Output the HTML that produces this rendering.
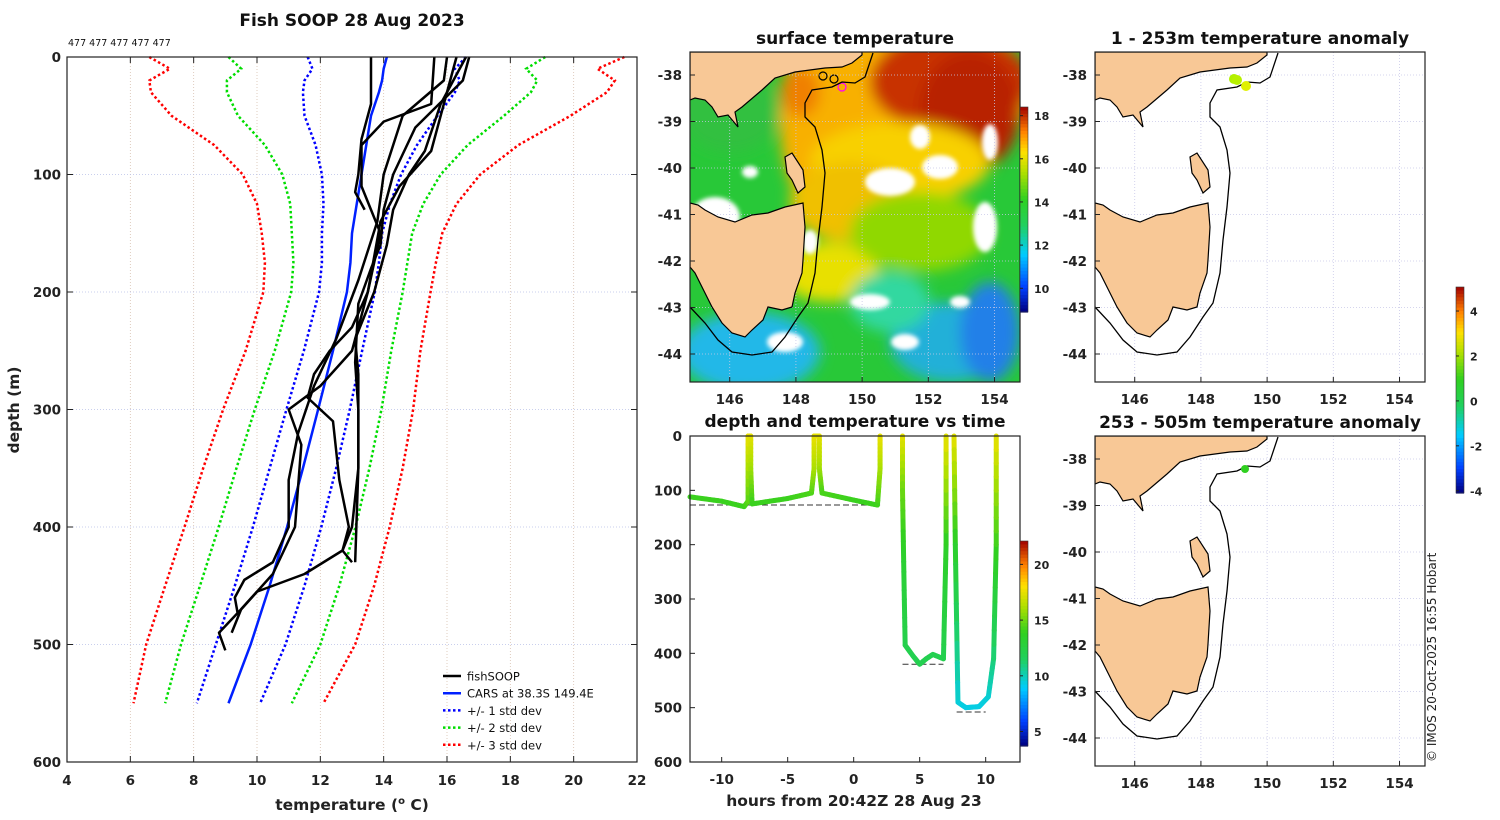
<!DOCTYPE html>
<html><head><meta charset="utf-8"><style>
body{margin:0;background:#fff}
svg{display:block;font-family:"DejaVu Sans","Liberation Sans",sans-serif}
.tk{font-size:13.5px;font-weight:bold;fill:#222}
.tt{font-size:17px;font-weight:bold;fill:#111}
.sm{font-size:11px;font-weight:bold;fill:#222}
</style></head><body>
<svg id="fig" width="1500" height="820" viewBox="0 0 1500 820">
<defs>
<clipPath id="mapclip"><rect x="0" y="0" width="330" height="330"/></clipPath>
<filter id="blur" x="-20%" y="-20%" width="140%" height="140%"><feGaussianBlur stdDeviation="7"/></filter>
<filter id="blur2"><feGaussianBlur stdDeviation="2"/></filter>
</defs>
<g id="left"></g>
<g id="sst"></g>
<g id="dt"></g>
<g id="an1"></g>
<g id="an2"></g>
<text x="1436" y="762" transform="rotate(-90 1436 762)" font-size="12" fill="#222">© IMOS 20-Oct-2025 16:55 Hobart</text>
</svg>
<script>
// ---------- data ----------
const carsDepth=[0,10,20,30,50,75,100,125,150,175,200,250,300,350,400,450,500,550];
const carsMean=[14.1,14.0,13.95,13.85,13.6,13.45,13.3,13.15,13.0,12.95,12.84,12.4,11.93,11.45,10.95,10.4,9.8,9.1];
const carsStd=[2.5,2.25,2.45,2.4,2.1,1.6,1.25,1.05,0.95,0.9,0.88,0.92,1.0,1.05,1.08,1.1,1.1,1.0];
const profA=[[15.6,0],[15.5,40],[14.0,55],[13.3,75],[13.3,110],[13.6,130],[13.9,150],[13.5,200],[13.0,250],[12.0,280],[11.0,300],[11.4,330],[11.2,400],[10.5,440],[9.5,470],[8.8,490],[9.0,505]];
const profB=[[16.7,0],[16.5,20],[15.0,60],[14.3,100],[14.0,130],[13.9,160],[13.6,180],[13.2,210],[13.1,260],[13.2,300],[13.2,350],[13.0,400],[12.7,420],[13.0,430]];
const profC=[[16.3,0],[16.0,30],[15.5,80],[14.5,110],[13.9,140],[13.7,170],[13.5,200],[13.0,230],[12.3,250],[11.8,270],[11.6,290],[12.4,310],[12.6,360],[12.9,400],[12.7,420],[11.5,440],[10.0,455],[9.5,470],[9.2,490]];
const profD=[[16.0,0],[15.9,20],[14.6,50],[14.0,100],[13.8,140],[13.2,190],[12.5,240],[11.8,280],[11.3,320],[11.0,360],[11.0,400],[10.5,430],[9.6,445],[9.3,460],[9.4,475]];
const profE=[[16.6,0],[16.4,10],[15.8,40],[15.3,80],[14.8,100],[14.3,130],[14.1,160],[13.7,200],[13.1,240],[13.2,270],[13.2,350],[13.1,430]];
const profF=[[13.6,0],[13.6,40],[13.3,70],[13.2,100],[13.1,115],[13.4,130]];
const xTicks=[4,6,8,10,12,14,16,18,20,22];
const yTicks=[0,100,200,300,400,500,600];
const dtHours1=[-12.4,-10,-8.3,-8.0,-8.0,-7.8,-7.8,-7.7,-5,-3.2,-3.0,-3.0,-2.6,-2.6,-2.4,0,1.8,2.0,2.0];
const dtDepth1=[112,120,130,120,0,0,60,125,115,105,60,0,0,60,105,118,127,60,0];
const dtTemp1=[14,14,14,14.5,17.5,17.5,16,14,14,14.3,16,17.5,17.5,16,14.3,14,14,16,17.5];
const dtHours2=[3.7,3.7,3.8,3.9,4.5,5,5.5,6,6.8,7.0,7.0];
const dtDepth2=[0,100,250,385,405,420,410,402,410,200,0];
const dtTemp2=[17.5,15,13,12.2,12,12,12,12,12,13.5,17.5];
const dtHours3=[7.6,7.7,7.9,8.5,9.5,10.2,10.6,10.8,10.8];
const dtDepth3=[0,200,490,500,498,480,410,200,0];
const dtTemp3=[17.5,13.5,9.5,9.3,9.3,9.5,11,14,17.5];
const dtXTicks=[-10,-5,0,5,10];
const dtYTicks=[0,100,200,300,400,500,600];
const mapLonTicks=[146,148,150,152,154];
const mapLatTicks=[-38,-39,-40,-41,-42,-43,-44];
const sstCbTicks=[18,16,14,12,10];
const dtCbTicks=[20,15,10,5];
const anCbTicks=[4,2,0,-2,-4];

const NS="http://www.w3.org/2000/svg";
function el(tag,attrs,parent){const e=document.createElementNS(NS,tag);for(const k in attrs)e.setAttribute(k,attrs[k]);parent.appendChild(e);return e;}
const stops=[[0,[0,0,128]],[0.12,[0,64,255]],[0.28,[0,204,255]],[0.42,[32,208,96]],[0.55,[48,208,32]],[0.68,[176,224,0]],[0.78,[255,224,0]],[0.88,[255,128,0]],[1,[160,0,0]]];
function cmap(t){t=Math.max(0,Math.min(1,t));for(let i=1;i<stops.length;i++){if(t<=stops[i][0]){const a=stops[i-1],b=stops[i];const f=(t-a[0])/(b[0]-a[0]);const c=a[1].map((v,j)=>Math.round(v+(b[1][j]-v)*f));return `rgb(${c})`;}}return 'rgb(160,0,0)';}

// ---------- left profile panel ----------
(function(){
const g=document.getElementById('left');
const X0=67,X1=637,Y0=57,Y1=762;
const xs=t=>X0+(t-4)*(X1-X0)/18, ys=d=>Y0+d*(Y1-Y0)/600;
el('rect',{x:X0,y:Y0,width:X1-X0,height:Y1-Y0,fill:'#fff'},g);
xTicks.forEach(t=>{const l=el('line',{x1:xs(t),x2:xs(t),y1:Y0,y2:Y1,stroke:'#d8c0b0','stroke-width':0.8,'stroke-dasharray':'1 2'},g);
const tx=el('text',{x:xs(t),y:Y1+23,'text-anchor':'middle',class:'tk'},g);tx.textContent=t;
el('line',{x1:xs(t),x2:xs(t),y1:Y1,y2:Y1-6,stroke:'#222'},g);el('line',{x1:xs(t),x2:xs(t),y1:Y0,y2:Y0+6,stroke:'#222'},g);});
yTicks.forEach(d=>{const l=el('line',{x1:X0,x2:X1,y1:ys(d),y2:ys(d),stroke:'#b8c0e8','stroke-width':0.8,'stroke-dasharray':'1 2'},g);
const tx=el('text',{x:X0-6,y:ys(d)+5,'text-anchor':'end',class:'tk'},g);tx.textContent=d;
el('line',{x1:X0,x2:X0+6,y1:ys(d),y2:ys(d),stroke:'#222'},g);el('line',{x1:X1,x2:X1-6,y1:ys(d),y2:ys(d),stroke:'#222'},g);});
const sdCol=['#0000ff','#00dd00','#ff0000'];
[1,2,3].forEach(k=>{[-1,1].forEach(s=>{const pts=carsDepth.map((d,i)=>xs(carsMean[i]+s*k*carsStd[i])+','+ys(d)).join(' ');
const p=el('polyline',{points:pts,fill:'none',stroke:sdCol[k-1],'stroke-width':2.5,'stroke-dasharray':'2.5 2.5'},g);});});
const cm=el('polyline',{points:carsDepth.map((d,i)=>xs(carsMean[i])+','+ys(d)).join(' '),fill:'none',stroke:'#0020ff','stroke-width':2.5},g);

[profA,profB,profC,profD,profE,profF].forEach((p,i)=>{const l=el('polyline',{points:p.map(q=>xs(q[0])+','+ys(q[1])).join(' '),fill:'none',stroke:'#000','stroke-width':2.5,'stroke-linejoin':'round'},g);
});
el('rect',{x:X0,y:Y0,width:X1-X0,height:Y1-Y0,fill:'none',stroke:'#222','stroke-width':1.2},g);
const t=el('text',{x:352,y:26,'text-anchor':'middle',class:'tt'},g);t.textContent='Fish SOOP 28 Aug 2023';
const c=el('text',{x:68,y:46,'font-size':9.5,fill:'#111'},g);c.textContent='477 477 477 477 477';
const xl=el('text',{x:352,y:810,'text-anchor':'middle','font-size':15.5,'font-weight':'bold',fill:'#222'},g);xl.innerHTML='temperature (<tspan dy="-6" font-size="10">o</tspan><tspan dy="6"> C)</tspan>';
const yl=el('text',{x:19,y:410,'text-anchor':'middle','font-size':15.5,'font-weight':'bold',fill:'#222',transform:'rotate(-90 19 410)'},g);yl.textContent='depth (m)';
const leg=[['fishSOOP','#000',''],['CARS at 38.3S 149.4E','#0020ff',''],['+/- 1 std dev','#0000ff','2.5 2.5'],['+/- 2 std dev','#00dd00','2.5 2.5'],['+/- 3 std dev','#ff0000','2.5 2.5']];
leg.forEach((L,i)=>{const y=676+i*17.2;const lg=el('g',{},g);
el('line',{x1:443,x2:461,y1:y,y2:y,stroke:L[1],'stroke-width':2.5,'stroke-dasharray':L[2]||'none'},lg);
const tx=el('text',{x:467,y:y+4.5,'font-size':11.5,fill:'#111'},lg);tx.textContent=L[0];});
})();

// ---------- map helpers ----------
const vic=[[0,0],[172,0],[172,3],[162,11],[152,15],[135,16],[105,20],[85,26],[72,38],[52,55],[45,60],[48,75],[38,63],[28,65],[22,55],[15,48],[5,46],[0,48]];
const tas=[[0,151],[8,153],[15,158],[28,165],[45,170],[62,163],[78,161],[95,155],[113,151],[115,175],[113,208],[112,221],[105,241],[102,255],[92,258],[78,255],[73,268],[62,278],[55,285],[42,281],[32,271],[22,255],[12,235],[5,221],[0,215]];
const flind=[[95,105],[102,101],[113,118],[115,135],[108,141],[102,128],[97,121]];
const shelf=[[183,1],[175,25],[165,31],[152,30],[142,35],[122,38],[115,51],[115,65],[125,75],[132,98],[135,121],[132,155],[128,188],[125,221],[118,251],[108,265],[95,285],[82,300],[62,303],[42,300],[28,288],[15,271],[0,255]];
const pts=a=>a.map(p=>p.join(',')).join(' ');
const lonX=lon=>(lon-144.8)*33.1, latY=lat=>23+(-38-lat)*46.5;
function mapFrame(g,ox,oy,labels,title,ty,underFn){
 const m=el('g',{transform:`translate(${ox},${oy})`},g);
 const inner=el('g',{'clip-path':'url(#mapclip)'},m);
 el('rect',{x:0,y:0,width:330,height:330,fill:'#fff'},inner);
 if(underFn)underFn(inner);
 mapLonTicks.forEach(l=>{el('line',{x1:lonX(l),x2:lonX(l),y1:0,y2:330,stroke:'#c8c8e8','stroke-width':0.8,'stroke-dasharray':'1 2'},inner);
  const t=el('text',{x:lonX(l),y:352,'text-anchor':'middle',class:'tk'},m);t.textContent=l;
  el('line',{x1:lonX(l),x2:lonX(l),y1:330,y2:325,stroke:'#222'},m);});
 mapLatTicks.forEach(l=>{el('line',{x1:0,x2:330,y1:latY(l),y2:latY(l),stroke:'#c8c8e8','stroke-width':0.8,'stroke-dasharray':'1 2'},inner);
  const t=el('text',{x:-8,y:latY(l)+5,'text-anchor':'end',class:'tk'},m);t.textContent=l;
  el('line',{x1:0,x2:5,y1:latY(l),y2:latY(l),stroke:'#222'},m);});
 [vic,tas,flind].forEach(p=>{const e=el('polygon',{points:pts(p),fill:'#f8c896',stroke:'#000','stroke-width':1.2},inner);});
 const s=el('polyline',{points:pts(shelf),fill:'none',stroke:'#000','stroke-width':1.3},inner);
 el('rect',{x:0,y:0,width:330,height:330,fill:'none',stroke:'#222','stroke-width':1.2},m);
 const t=el('text',{x:165,y:ty,'text-anchor':'middle',class:'tt'},m);t.textContent=title;
 return m;}
function colorbar(g,x,y0,y1,vmin,vmax,ticks,name){
 const cb=el('g',{},g);
 const n=60,h=(y1-y0)/n;for(let i=0;i<n;i++){el('rect',{x:x,y:y0+i*h,width:8,height:h+0.6,fill:cmap(1-(i+0.5)/n)},cb);}
 el('rect',{x:x,y:y0,width:8,height:y1-y0,fill:'none',stroke:'#333','stroke-width':0.6},cb);
 ticks.forEach(v=>{const y=y1-(v-vmin)/(vmax-vmin)*(y1-y0);el('line',{x1:x,x2:x+3,y1:y,y2:y,stroke:'#222'},cb);const t=el('text',{x:x+14,y:y+4.5,class:'sm'},cb);t.textContent=v;});}

// ---------- SST map ----------
(function(){
const g=document.getElementById('sst');
mapFrame(g,690,52,true,'surface temperature',-8,function(inner){
 el('rect',{x:0,y:0,width:330,height:330,fill:'#28c838'},inner);
 const b=el('g',{filter:'url(#blur)'},inner);
 const blobs=[[230,40,110,80,'#f0a000'],[150,70,60,110,'#f8b000'],[260,30,80,50,'#c83000'],[280,60,50,60,'#b82000'],[210,110,90,40,'#f8d000'],[160,150,60,40,'#f0c000'],[140,220,50,30,'#e8e000'],[230,180,70,40,'#90d800'],[60,300,70,40,'#20b8e8'],[260,290,60,40,'#20b0d8'],[300,280,30,50,'#2080e8'],[200,250,40,30,'#30d8a0'],[40,60,50,40,'#30c040'],[110,40,20,25,'#f08000']];
 blobs.forEach(q=>el('ellipse',{cx:q[0],cy:q[1],rx:q[2],ry:q[3],fill:q[4]},b));
 const w=el('g',{filter:'url(#blur2)',fill:'#fff'},inner);
 [[25,165,25,20],[200,130,25,14],[250,115,18,12],[295,175,12,25],[180,250,20,8],[95,290,18,10],[300,90,8,18],[230,85,10,12],[120,190,8,12],[215,290,14,8],[270,250,10,6],[60,120,8,6]].forEach(q=>el('ellipse',{cx:q[0],cy:q[1],rx:q[2],ry:q[3]},w));
 [[133,24],[144,27],[152,35]].forEach((p,i)=>el('circle',{cx:p[0],cy:p[1],r:4,fill:'none',stroke:i==2?'#ff00ff':'#000','stroke-width':1.2},inner));
});
colorbar(g,1020,107,312,8.9,18.4,sstCbTicks,'sst-colorbar');
})();

// ---------- depth/time ----------
(function(){
const g=document.getElementById('dt');
const X0=690,X1=1020,Y0=436,Y1=762;
const xs=h=>X0+(h+12.4)*(X1-X0)/25, ys=d=>Y0+d*(Y1-Y0)/600;
dtXTicks.forEach(h=>{const t=el('text',{x:xs(h),y:Y1+22,'text-anchor':'middle',class:'tk'},g);t.textContent=h;el('line',{x1:xs(h),x2:xs(h),y1:Y1,y2:Y1-5,stroke:'#222'},g);});
dtYTicks.forEach(d=>{const t=el('text',{x:X0-8,y:ys(d)+5,'text-anchor':'end',class:'tk'},g);t.textContent=d;el('line',{x1:X0,x2:X0+5,y1:ys(d),y2:ys(d),stroke:'#222'},g);});
[[-12.4,2.0,127],[3.7,6.8,420],[7.8,10.0,508]].forEach(r=>{const l=el('line',{x1:xs(r[0]),x2:xs(r[1]),y1:ys(r[2]),y2:ys(r[2]),stroke:'#333','stroke-width':1,'stroke-dasharray':'6 3'},g);});
[[dtHours1,dtDepth1,dtTemp1],[dtHours2,dtDepth2,dtTemp2],[dtHours3,dtDepth3,dtTemp3]].forEach(s=>{
 const tr=el('g',{},g);
 for(let i=0;i<s[0].length-1;i++){const steps=8;for(let k=0;k<steps;k++){const f0=k/steps,f1=(k+1)/steps;
  const h0=s[0][i]+(s[0][i+1]-s[0][i])*f0,h1=s[0][i]+(s[0][i+1]-s[0][i])*f1,d0=s[1][i]+(s[1][i+1]-s[1][i])*f0,d1=s[1][i]+(s[1][i+1]-s[1][i])*f1;
  const T=s[2][i]+(s[2][i+1]-s[2][i])*(f0+f1)/2;
  el('line',{x1:xs(h0),y1:ys(d0),x2:xs(h1),y2:ys(d1),stroke:cmap((T-3.7)/18.4),'stroke-width':5,'stroke-linecap':'round'},tr);}}});
el('rect',{x:X0,y:Y0,width:X1-X0,height:Y1-Y0,fill:'none',stroke:'#222','stroke-width':1.2},g);
const t=el('text',{x:855,y:427,'text-anchor':'middle',class:'tt'},g);t.textContent='depth and temperature vs time';
const xl=el('text',{x:854,y:806,'text-anchor':'middle','font-size':15.5,'font-weight':'bold',fill:'#222'},g);xl.textContent='hours from 20:42Z 28 Aug 23';
colorbar(g,1020,541,746,3.7,22.1,dtCbTicks,'depth-time-colorbar');
})();

// ---------- anomaly maps ----------
(function(){
const g1=document.getElementById('an1');
mapFrame(g1,1095,52,true,'1 - 253m temperature anomaly',-8,null);
[[139,27,'#b0f000'],[142,28,'#b8f000'],[151,34,'#e0f000']].forEach(p=>{const c=el('circle',{cx:1095+p[0],cy:52+p[1],r:5,fill:p[2]},g1);});
const g2=document.getElementById('an2');
mapFrame(g2,1095,436,true,'253 - 505m temperature anomaly',-8,null);
const c=el('circle',{cx:1245,cy:469,r:4,fill:'#30d020'},g2);
colorbar(g1,1456,287,493,-4.1,5.07,anCbTicks,'anomaly-colorbar');
})();
</script>
</body></html>
